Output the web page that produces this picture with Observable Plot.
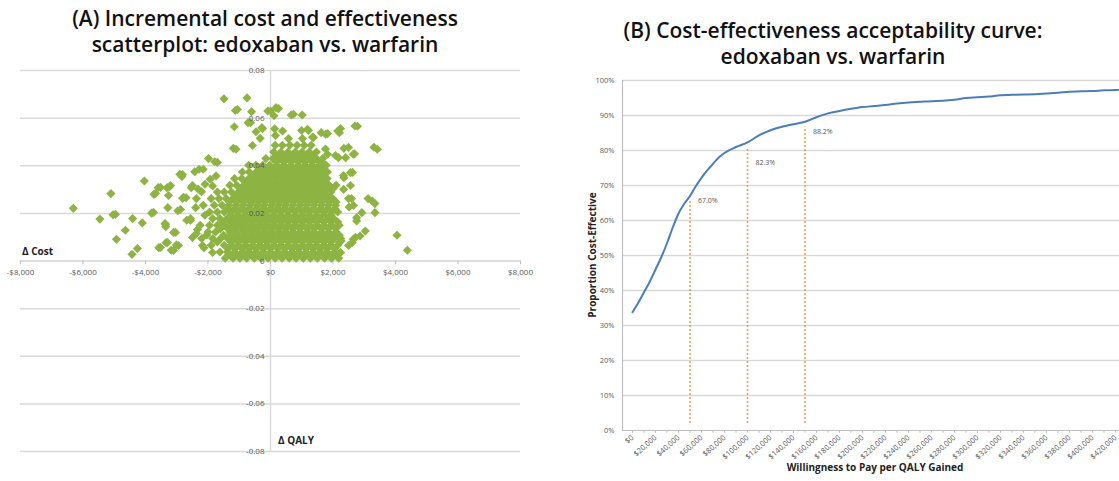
<!DOCTYPE html>
<html>
<head>
<meta charset="utf-8">
<script src="https://cdn.jsdelivr.net/npm/d3@7"></script>
<script src="https://cdn.jsdelivr.net/npm/@observablehq/plot@0.6"></script>
<style>
  body { margin:0; width:1119px; height:481px; position:relative; background:#fff; overflow:hidden; font-family:"Open Sans", sans-serif; }
  .title { position:absolute; text-align:center; font-weight:600; font-size:21px; line-height:26px; color:#111; letter-spacing:0px; white-space:nowrap; }
  .lbl { position:absolute; font-weight:700; font-size:10px; color:#222; white-space:nowrap; }
  #chartA, #chartB { position:absolute; }
</style>
</head>
<body>
<div class="title" style="left:0;width:530px;top:5px;">(A) Incremental cost and effectiveness<br>scatterplot: edoxaban vs. warfarin</div>
<div class="title" style="left:570px;width:526px;top:17px;">(B) Cost-effectiveness acceptability curve:<br>edoxaban vs. warfarin</div>
<div id="chartA" style="left:0;top:60px;"></div>
<div id="chartB" style="left:570px;top:60px;"></div>
<div class="lbl" style="left:22px;top:244px;">Δ Cost</div>
<div class="lbl" style="left:278px;top:433px;">Δ QALY</div>
<div class="lbl" style="left:592px;top:255px;transform:translate(-50%,-50%) rotate(-90deg);">Proportion Cost-Effective</div>
<div class="lbl" style="left:875px;top:467px;transform:translate(-50%,-50%);">Willingness to Pay per QALY Gained</div>
<script>
// ---------- Panel A data ----------
const costTicks = [-8000,-6000,-4000,-2000,0,2000,4000,6000,8000];
const qalyTicks = [0.08,0.06,0.04,0.02,0,-0.02,-0.04,-0.06,-0.08];
const qalyTickLabels = ["0.08","0.06","0.04","0.02","0","-0.02","-0.04","-0.06","-0.08"];

// scattered (outer) simulations: [Δ cost, Δ QALY]
const outerSims = [
[-6310,0.0221],[-5460,0.0176],[-5107,0.0283],[-5040,0.0194],[-4960,0.0196],[-4930,0.0091],[-4644,0.0129],[-4434,0.0028],[-4412,0.0178],[-4258,0.0052],[-4103,0.016],[-4037,0.0336],[-3805,0.0201],[-3728,0.028],[-3596,0.0308],[-3574,0.0056],[-3375,0.0157],[-3353,0.0144],[-3342,0.0077],[-3309,0.0308],[-3287,0.0224],[-3232,0.0312],[-3177,0.0045],[-3100,0.012],[-3011,0.0067],[-2967,0.0211],[-2900,0.0364],[-2835,0.0355],[-2813,0.0263],[-2702,0.0266],[-2680,0.0171],[-2559,0.0171],[-2537,0.0308],[-2427,0.0375],[-2394,0.0224],[-2371,0.0262],[-2371,0.0115],[-2316,0.0302],[-2283,0.0385],[-2206,0.0291],[-2151,0.0385],[-2129,0.0056],[-2096,0.0322],[-2041,0.0109],[-1985,0.043],[-1930,0.0343],[-1853,0.0315],[-1787,0.0417],[-1743,0.0357],
[-1489,0.0681],[-1125,0.0632],[-1158,0.0564],[-1191,0.0473],[-1103,0.0469],[-750,0.0685],[-607,0.0627],[-717,0.0581],[-463,0.0543],[-276,0.056],[-331,0.0515],[-88,0.063],[176,0.0644],[110,0.061],[662,0.0613],[1015,0.0613],[132,0.0555],[386,0.0546],[993,0.0548],[1180,0.0553],[1346,0.052],[1621,0.0539],[1765,0.0532],[2151,0.0546],[2206,0.0539],[2702,0.0567],[2349,0.0473],[2404,0.0434],[2647,0.0448],[3309,0.0478],[3419,0.0469],[2559,0.0371],[2349,0.035],[2338,0.0301],[2592,0.0262],[2515,0.0227],[3122,0.0262],[3254,0.0252],[3342,0.0241],[3342,0.0203],[2923,0.0203],[2757,0.0182],[2757,0.0168],[3033,0.0126],[2868,0.0105],[2647,0.0091],[2614,0.0077],[4048,0.0108],[4379,0.0045],[2228,0.0035],[2261,0.0084],
[-1056,0.0636],[-640,0.0581],[-576,0.0485],[-1700,0.0414],[-2816,0.0363],[-3520,0.0309],[-3200,0.0317],[-3680,0.0284],[-3264,0.0275],[-2784,0.0267],[-2496,0.0317],[-3744,0.0204],[-2880,0.0216],[-2560,0.0178],[-3360,0.0153],[-3040,0.012],[-3296,0.0078],[-3520,0.0057],[-3104,0.0044],[-2944,0.0065],[-2496,0.0099],[-2336,0.0132],[-2176,0.0065],[-1856,0.0036],
[2784,0.0566],[2240,0.0556],[2496,0.0477],[2688,0.045],[2624,0.0372],[2336,0.0359],[2560,0.0317],[2496,0.0262],[2656,0.0233],[2720,0.0099],[2496,0.0065],[2240,0.0036],[0,0.063],[256,0.064],[736,0.0616],[-256,0.0556],[160,0.0527],[576,0.0514],[1024,0.0514],[1216,0.0548],[1376,0.0519],[1824,0.0535],[1760,0.047],[1824,0.0448],[2080,0.0443],[2176,0.0434],[1440,0.0434],[1664,0.0414]
];

// dense core of simulations, read row by row: Δ QALY level and the Δ costs on it
const coreRows = [
{q:0.0012, c:[-1450,-1200,-980,-760,-520,-300,-80,150,370,600,820,1050,1280,1500,1730,1950,2180]},
{q:0.0025, c:[-1300,-1070,-840,-610,-380,-150,80,310,540,760,990,1220,1450,1680,1900,2120]},
{q:0.0038, c:[-1620,-1380,-1150,-900,-700,-460,-240,0,230,450,690,900,1130,1360,1580,1800,2050]},
{q:0.0052, c:[-1360,-1130,-900,-670,-450,-220,0,230,460,690,910,1140,1370,1600,1820,2050]},
{q:0.0066, c:[-1900,-1480,-1250,-1020,-790,-560,-340,-110,120,340,570,800,1020,1250,1470,1700,1930,2150]},
{q:0.0080, c:[-1700,-1250,-1030,-800,-570,-340,-120,110,340,570,790,1020,1250,1480,1710,1930,2200]},
{q:0.0094, c:[-2200,-1850,-1600,-1370,-1150,-900,-680,-450,-230,0,220,440,680,900,1120,1350,1580,1800,2030,2250]},
{q:0.0108, c:[-1500,-1260,-1030,-800,-570,-340,-110,110,340,570,800,1030,1260,1490,1720,1950,2200]},
{q:0.0122, c:[-2000,-1760,-1300,-1080,-850,-620,-400,-170,50,280,500,730,960,1190,1400,1640,1860,2100]},
{q:0.0136, c:[-1600,-1370,-1140,-910,-680,-450,-220,10,240,470,700,930,1160,1390,1620,1850,2080]},
{q:0.0150, c:[-2250,-1950,-1700,-1470,-1230,-1000,-780,-550,-320,-100,130,360,580,810,1040,1260,1490,1720,1950,2200]},
{q:0.0164, c:[-1520,-1290,-1060,-830,-600,-370,-140,90,320,550,780,1010,1240,1470,1700,1930,2150]},
{q:0.0178, c:[-1850,-1620,-1390,-1170,-940,-700,-480,-250,-20,200,430,660,880,1110,1340,1560,1800,2020]},
{q:0.0192, c:[-2100,-1280,-1050,-820,-590,-360,-130,100,330,560,790,1020,1250,1480,1710,1940]},
{q:0.0206, c:[-1950,-1700,-1480,-1260,-1030,-800,-570,-350,-120,110,330,560,790,1020,1240,1470,1700,1920,2150]},
{q:0.0220, c:[-1370,-1140,-910,-680,-450,-230,0,220,450,680,910,1140,1370,1600,1830,2060]},
{q:0.0234, c:[-2150,-1800,-1550,-1330,-1100,-880,-650,-420,-200,30,250,480,710,940,1160,1390,1620,1850,2080]},
{q:0.0248, c:[-1310,-1080,-850,-620,-400,-170,60,290,510,740,970,1200,1420,1650,1880,2100]},
{q:0.0262, c:[-1900,-1650,-1420,-1200,-970,-740,-510,-290,-60,170,400,620,850,1080,1300,1530,1760,1990]},
{q:0.0276, c:[-1110,-880,-650,-420,-200,30,260,490,720,940,1170,1400,1630,1850]},
{q:0.0290, c:[-1700,-1480,-1250,-1020,-790,-570,-340,-110,110,340,570,800,1020,1250,1480,1700,1930]},
{q:0.0304, c:[-950,-720,-490,-260,-30,200,430,650,880,1110,1340,1570,1800,2000]},
{q:0.0318, c:[-1300,-1080,-850,-620,-400,-170,60,280,510,740,970,1190,1420,1650,1880,2100]},
{q:0.0332, c:[-770,-540,-310,-80,150,380,600,830,1060,1290,1520,1740]},
{q:0.0346, c:[-1150,-920,-690,-460,-240,-10,220,450,670,900,1130,1350,1580,1810]},
{q:0.0360, c:[-570,-340,-110,120,350,570,800,1030,1260,1480,1700]},
{q:0.0374, c:[-900,-680,-450,-220,0,230,460,680,910,1140,1370,1590,1820]},
{q:0.0388, c:[-350,-120,110,340,570,800,1020,1250,1480,1680]},
{q:0.0402, c:[-700,-470,-250,-20,200,430,660,890,1110,1340,1570,1780]},
{q:0.0416, c:[190,420,650,880,1100,1330,1560]},
{q:0.0430, c:[-150,80,300,530,760,990,1210,1440,1670]},
{q:0.0444, c:[200,440,670,900,1130,1360]},
{q:0.0458, c:[100,330,560,790,1010,1240,1470]},
{q:0.0486, c:[150,380,620,850,1080,1300]}
];

// ---------- Panel B data ----------
const wtp = [0,5000,10000,15000,20000,25000,30000,35000,40000,45000,50000,55000,60000,65000,70000,75000,80000,90000,100000,110000,120000,130000,140000,150000,160000,170000,180000,190000,200000,210000,220000,230000,240000,250000,260000,270000,280000,290000,300000,310000,320000,330000,340000,350000,360000,370000,380000,390000,400000,410000,420000,425000];
const probCE = [0.338,0.365,0.395,0.425,0.46,0.495,0.535,0.58,0.62,0.648,0.670,0.698,0.722,0.743,0.762,0.78,0.793,0.810,0.823,0.843,0.858,0.868,0.875,0.882,0.895,0.906,0.913,0.919,0.924,0.927,0.930,0.934,0.937,0.939,0.941,0.942,0.945,0.950,0.952,0.954,0.958,0.959,0.960,0.961,0.963,0.965,0.968,0.969,0.970,0.972,0.973,0.974];
const thresholdWtp = [50000,100000,150000];
const thresholdProb = [0.670,0.823,0.882];
const thresholdLabels = ["67.0%","82.3%","88.2%"];
const pctTicks = [0,0.1,0.2,0.3,0.4,0.5,0.6,0.7,0.8,0.9,1.0];
const wtpTicks = d3.range(0, 440000, 20000);
const wtpMinorTicks = d3.range(0, 430000, 10000);

// ---------- build Panel A ----------
const sims = outerSims.map(([c,q]) => ({cost:c, qaly:q}))
  .concat(coreRows.flatMap(r => r.c.map(c => ({cost:c, qaly:r.q}))));
const money = d => (d < 0 ? "-" : "") + "$" + d3.format(",")(Math.abs(d));
const gridGrey = "#d9d9d9", axisGrey = "#bfbfbf", tickText = "#595959";

const chartA = Plot.plot({
  width: 540, height: 410,
  marginLeft: 20, marginRight: 20, marginTop: 10, marginBottom: 19,
  style: {fontFamily: "'Open Sans', sans-serif", background: "transparent"},
  x: {domain: [-8000, 8000], axis: null},
  y: {domain: [-0.08, 0.08], axis: null},
  marks: [
    Plot.ruleY(qalyTicks.filter(d => d !== 0), {stroke: gridGrey, strokeWidth: 1.5}),
    Plot.ruleX([0], {stroke: gridGrey, strokeWidth: 1.5}),
    Plot.ruleY([0], {stroke: axisGrey, strokeWidth: 1.2}),
    Plot.ruleX(costTicks, {x: d => d, y1: () => 0, y2: () => -0.0016, stroke: axisGrey}),
    Plot.dot(sims, {x: "cost", y: "qaly", symbol: "diamond2", r: 4.1, fill: "#8db443", stroke: "none"}),
    Plot.text(costTicks, {x: d => d, y: () => 0, dy: 11, text: money, fontSize: 8, fill: tickText}),
    Plot.text(qalyTicks, {x: () => 0, y: d => d, dx: -6, textAnchor: "end", text: (d, i) => qalyTickLabels[i], fontSize: 8, fill: tickText})
  ]
});
document.getElementById("chartA").append(chartA);

// ---------- build Panel B ----------
const curve = wtp.map((w, i) => ({wtp: w, p: probCE[i]}));
const thresholds = thresholdWtp.map((w, i) => ({wtp: w, p: thresholdProb[i], label: thresholdLabels[i]}));

const chartB = Plot.plot({
  width: 549, height: 421,
  marginLeft: 52, marginRight: 0, marginTop: 20, marginBottom: 51,
  style: {fontFamily: "'Open Sans', sans-serif", fontSize: "7.5px", color: tickText, background: "transparent"},
  x: {domain: [-8700, 423500], ticks: wtpTicks, tickFormat: money, tickRotate: -42, tickSize: 0, tickPadding: 6, label: null},
  y: {domain: [0, 1], ticks: pctTicks, tickFormat: d3.format(".0%"), tickSize: 0, tickPadding: 8, label: null},
  marks: [
    Plot.ruleY(pctTicks.filter(d => d > 0), {stroke: gridGrey, strokeWidth: 1.5}),
    Plot.ruleY([0], {stroke: axisGrey, strokeWidth: 1.2}),
    Plot.ruleX([-8700], {stroke: axisGrey, strokeWidth: 1.2}),
    Plot.ruleX(wtpMinorTicks, {x: d => d, y1: () => 0, y2: () => -0.008, stroke: axisGrey}),
    Plot.ruleX(thresholds, {x: "wtp", y1: () => 0.02, y2: d => d.p - 0.015, stroke: "#f79646", strokeWidth: 1.5, strokeDasharray: "2,2"}),
    Plot.line(curve, {x: "wtp", y: "p", stroke: "#4a7ebb", strokeWidth: 2, curve: "monotone-x"}),
    Plot.text(thresholds.slice(0,1), {x: "wtp", y: "p", dx: 8, dy: 5, text: "label", textAnchor: "start", fontSize: 7, fill: tickText}),
    Plot.text(thresholds.slice(1,2), {x: "wtp", y: "p", dx: 8, dy: 20, text: "label", textAnchor: "start", fontSize: 7, fill: tickText}),
    Plot.text(thresholds.slice(2,3), {x: "wtp", y: "p", dx: 8, dy: 10, text: "label", textAnchor: "start", fontSize: 7, fill: tickText})
  ]
});
document.getElementById("chartB").append(chartB);
</script>
</body>
</html>
